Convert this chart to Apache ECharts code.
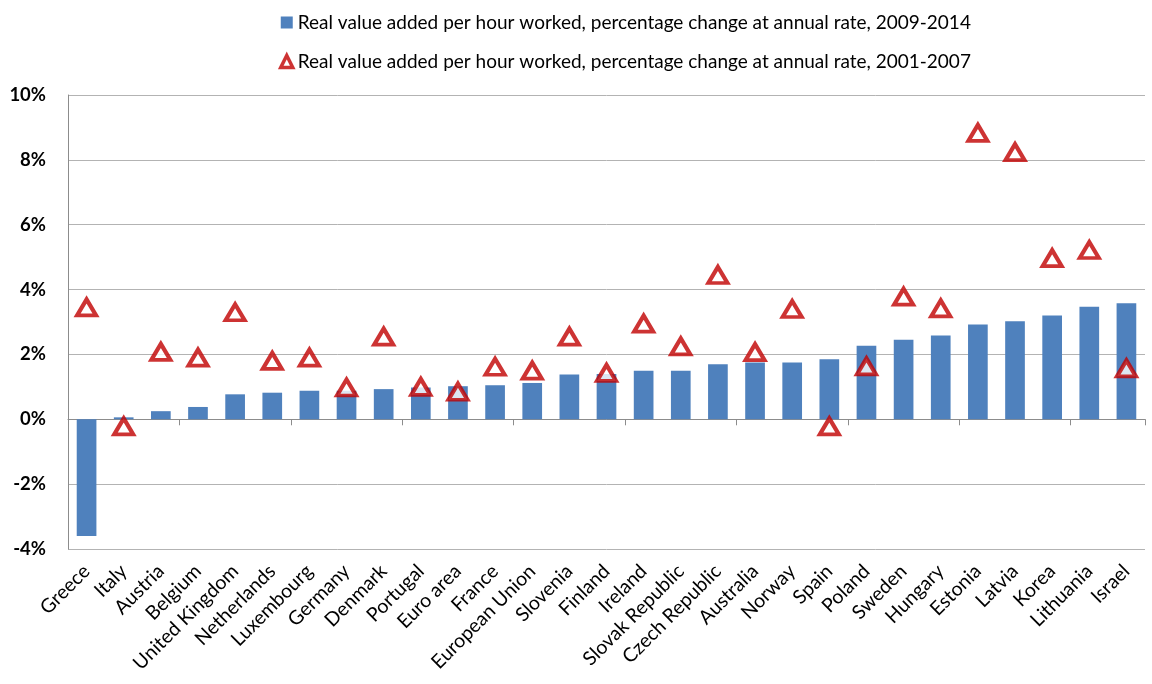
<!DOCTYPE html>
<html><head><meta charset="utf-8">
<script src="https://cdn.jsdelivr.net/npm/echarts@6/dist/echarts.min.js"></script>
<style>html,body{margin:0;padding:0;background:#fff}#c{width:1152px;height:684px}</style>
</head><body><div id="c"></div>
<script>
const categories = ["Greece","Italy","Austria","Belgium","United Kingdom","Netherlands","Luxembourg","Germany","Denmark","Portugal","Euro area","France","European Union","Slovenia","Finland","Ireland","Slovak Republic","Czech Republic","Australia","Norway","Spain","Poland","Sweden","Hungary","Estonia","Latvia","Korea","Lithuania","Israel"];
const growth2009_2014 = [-3.6,0.06,0.25,0.38,0.77,0.82,0.88,0.88,0.93,0.98,1.02,1.05,1.12,1.38,1.4,1.5,1.5,1.7,1.75,1.75,1.85,2.27,2.45,2.58,2.92,3.02,3.2,3.47,3.58];
const growth2001_2007 = [3.45,-0.22,2.08,1.9,3.3,1.8,1.9,0.98,2.55,1.0,0.85,1.62,1.5,2.55,1.43,2.95,2.25,4.45,2.07,3.4,-0.22,1.63,3.78,3.42,8.83,8.24,4.97,5.22,1.57];
const yTicks = {min:-4, max:10, interval:2};
const name1 = "Real value added per hour worked, percentage change at annual rate, 2009-2014";
const name2 = "Real value added per hour worked, percentage change at annual rate, 2001-2007";

const chart = echarts.init(document.getElementById('c'));
const font = "Lato, 'Open Sans', sans-serif";
chart.setOption({
  animation:false,
  textStyle:{fontFamily:font},
  legend:{
    orient:'vertical', left:274, top:8, itemGap:20, itemWidth:12, itemHeight:12,
    textStyle:{fontFamily:font, fontSize:19, color:'#000'},
    data:[{name:name1, icon:'rect'},{name:name2, itemStyle:{borderWidth:3.5}}]
  },
  grid:{left:68, right:7, top:95, bottom:135},
  xAxis:[{
    type:'category', data:categories, position:'bottom',
    axisLine:{onZero:true, lineStyle:{color:'#8c8c8c', width:1}},
    axisTick:{show:true, length:6, lineStyle:{color:'#8c8c8c'}},
    axisLabel:{show:false}, splitLine:{show:false}
  },{
    type:'category', data:categories, position:'bottom',
    axisLine:{show:false, onZero:false}, axisTick:{show:false},
    axisLabel:{interval:0, rotate:45, fontFamily:font, fontSize:19.5, color:'#000', margin:19}
  }],
  yAxis:{
    type:'value', min:yTicks.min, max:yTicks.max, interval:yTicks.interval,
    axisLine:{show:true, lineStyle:{color:'#8c8c8c'}},
    axisTick:{show:false},
    axisLabel:{formatter:v=>v+'%', fontFamily:font, fontSize:18.5, fontWeight:'bold', color:'#000', margin:22},
    splitLine:{lineStyle:{color:'#b3b3b3', width:1}}
  },
  series:[{
    name:name1, type:'bar', data:growth2009_2014, barWidth:'53%',
    itemStyle:{color:'#4F81BD'}
  },{
    name:name2, type:'scatter', data:growth2001_2007, symbol:'triangle', symbolSize:[19,16],
    itemStyle:{color:'#ffffff', borderColor:'#C00000', borderWidth:4}, z:5
  }]
});
</script></body></html>
